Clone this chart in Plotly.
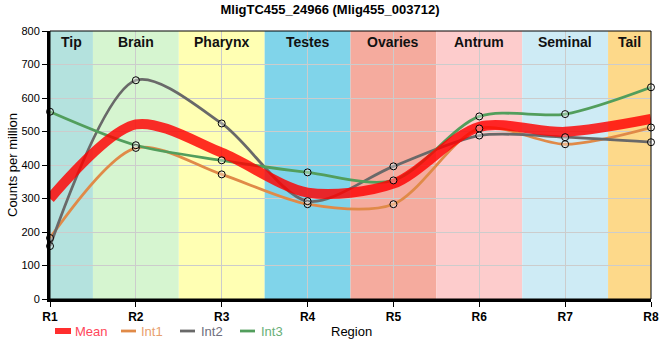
import plotly.graph_objects as go

regions = ["R1", "R2", "R3", "R4", "R5", "R6", "R7", "R8"]
int1 = [182, 451, 372, 283, 283, 509, 462, 512]
int2 = [158, 653, 524, 292, 396, 488, 483, 468]
int3 = [559, 459, 414, 378, 354, 545, 552, 632]
mean = [(a + b + c) / 3 for a, b, c in zip(int1, int2, int3)]

band_names = ["Tip", "Brain", "Pharynx", "Testes", "Ovaries", "Antrum", "Seminal", "Tail"]
band_colors = ["#b4e2de", "#d6f5d0", "#ffffb3", "#80d4ea", "#f5ab9e", "#fdcccc", "#ceebf5", "#fdd98a"]

xs = list(range(1, len(regions) + 1))

W, H = 660, 360
L, R, T, B = 50, 9, 31, 61
PW, PH = W - L - R, H - T - B

def px(x):
    return (x - L) / PW

def py(y):
    return (H - B - y) / PH

fig = go.Figure()

shapes = []
annotations = []
for i, (name, col) in enumerate(zip(band_names, band_colors)):
    x0 = max(1, xs[i] - 0.5)
    x1 = min(8, xs[i] + 0.5)
    shapes.append(dict(type="rect", xref="x", yref="paper", x0=x0, x1=x1, y0=0, y1=1,
                       fillcolor=col, line=dict(width=0), layer="below"))
    annotations.append(dict(x=(x0 + x1) / 2, y=1, xref="x", yref="paper", yanchor="top",
                            text="<b>%s</b>" % name, showarrow=False, yshift=-1,
                            font=dict(size=14, color="#111", family="Liberation Sans, Arial")))

shapes.append(dict(type="rect", xref="paper", yref="paper", x0=0, x1=1, y0=0, y1=1,
                   line=dict(color="black", width=1), layer="above"))

line_cols = {"Int1": "rgb(224,138,72)", "Int2": "rgb(105,105,105)", "Int3": "rgb(82,158,92)"}
SM = 0.85
for nm, vals in [("Int1", int1), ("Int2", int2), ("Int3", int3)]:
    fig.add_trace(go.Scatter(x=xs, y=vals, mode="lines", name=nm, showlegend=False,
                             line=dict(color=line_cols[nm], width=2.8, shape="spline", smoothing=SM)))

fig.add_trace(go.Scatter(x=xs, y=mean, mode="lines", name="Mean", showlegend=False,
                         line=dict(color="rgba(255,0,0,0.82)", width=10, shape="spline", smoothing=SM)))

for vals in [int1, int2, int3]:
    fig.add_trace(go.Scatter(x=xs, y=vals, mode="markers", showlegend=False,
                             marker=dict(symbol="circle", size=7, color="rgba(255,255,255,0.35)",
                                         line=dict(color="black", width=1)), cliponaxis=False))

# manual legend
leg_y = 331
legend_items = [
    ("Mean", "rgba(255,0,0,0.82)", 6, "rgb(255,70,90)", 55, 71, 73),
    ("Int1", line_cols["Int1"], 2.8, "rgb(232,160,110)", 121, 136, 139),
    ("Int2", line_cols["Int2"], 2.8, "rgb(110,110,125)", 180, 195, 199),
    ("Int3", line_cols["Int3"], 2.8, "rgb(105,175,120)", 240, 255, 259),
]
for text, lc, lw, tc, x0, x1, tx in legend_items:
    shapes.append(dict(type="line", xref="paper", yref="paper", x0=px(x0), x1=px(x1),
                       y0=py(leg_y), y1=py(leg_y), line=dict(color=lc, width=lw)))
    annotations.append(dict(x=px(tx), y=py(leg_y), xref="paper", yref="paper", text=text,
                            xanchor="left", yanchor="middle", showarrow=False,
                            font=dict(size=13, color=tc)))

annotations.append(dict(x=px(351), y=py(leg_y), xref="paper", yref="paper", text="Region",
                        showarrow=False, font=dict(size=13, color="black"),
                        xanchor="center", yanchor="middle"))
annotations.append(dict(x=px(12), y=py(165), xref="paper", yref="paper", text="Counts per million",
                        showarrow=False, textangle=-90, font=dict(size=13, color="black"),
                        xanchor="center", yanchor="middle"))

fig.update_layout(
    width=W, height=H,
    margin=dict(l=L, r=R, t=T, b=B),
    paper_bgcolor="white", plot_bgcolor="white",
    font=dict(family="Liberation Sans, Arial", size=12, color="black"),
    title=dict(text="<b>MligTC455_24966 (Mlig455_003712)</b>", x=0.5, xanchor="center",
               y=1 - 9 / H, yanchor="middle", font=dict(size=13, color="black")),
    shapes=shapes, annotations=annotations,
    showlegend=False,
)
fig.update_xaxes(range=[1, 8], tickvals=xs, ticktext=["<b>%s</b>" % r for r in regions],
                 showgrid=True, gridcolor="#cccccc", gridwidth=1,
                 showline=True, linecolor="black", linewidth=3,
                 ticks="outside", ticklen=5, tickcolor="black", tickwidth=1,
                 tickfont=dict(size=12), zeroline=False, layer="above traces",
                 automargin=False, ticklabeloverflow="allow")
fig.update_yaxes(range=[0, 800], dtick=100, showgrid=True, gridcolor="#cccccc", gridwidth=1,
                 showline=True, linecolor="black", linewidth=3,
                 ticks="outside", ticklen=5, tickcolor="black", tickwidth=1,
                 tickfont=dict(size=11), zeroline=False, automargin=False)

fig.write_html("out.html", config={"displayModeBar": False},
               post_script="document.body.style.margin='0';document.body.style.overflow='hidden';")
